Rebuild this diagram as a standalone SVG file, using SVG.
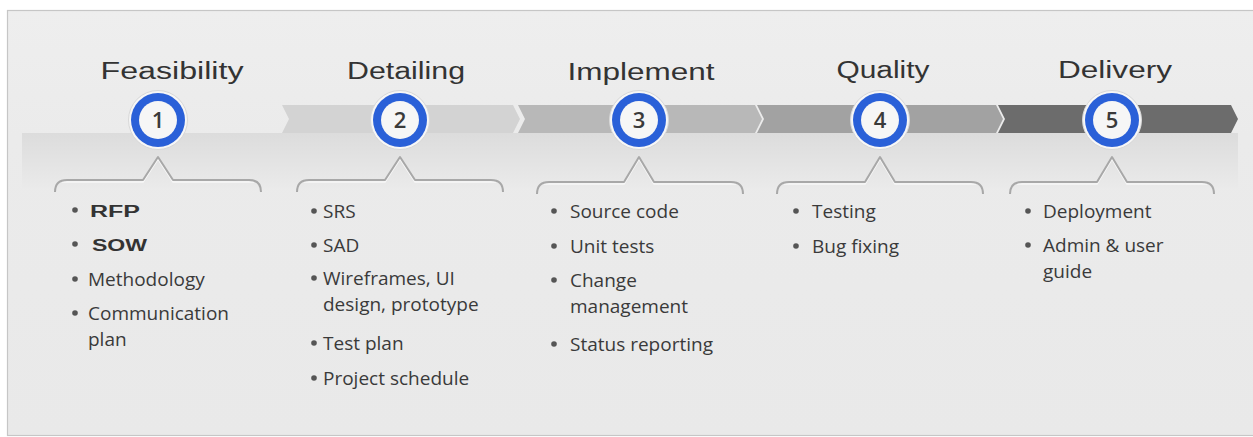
<svg xmlns="http://www.w3.org/2000/svg" width="1253" height="437" viewBox="0 0 1253 437">
<defs>
<linearGradient id="band" x1="0" y1="0" x2="0" y2="1">
<stop offset="0" stop-color="#dcdcdc"/>
<stop offset="1" stop-color="#eaeaea"/>
</linearGradient>
<linearGradient id="bg" x1="0" y1="0" x2="0" y2="1">
<stop offset="0" stop-color="#eeeeee"/>
<stop offset="0.3" stop-color="#ebebeb"/>
<stop offset="1" stop-color="#e9e9e9"/>
</linearGradient>
<linearGradient id="leg" x1="0" y1="0" x2="0" y2="1">
<stop offset="0" stop-color="#b0b0b0"/>
<stop offset="1" stop-color="#e9e9e9" stop-opacity="0"/>
</linearGradient>
</defs>
<style>
.head{font-family:"Liberation Sans",Arial,sans-serif;font-size:23px;fill:#333;text-anchor:middle}
.num{font-family:"Open Sans","Noto Sans",sans-serif;font-size:22px;font-weight:600;fill:#3a3a3a;text-anchor:middle}
.item{font-family:"Open Sans","Noto Sans",sans-serif;font-size:19px;fill:#3a3a3a}
.ar{font-family:"Liberation Sans",Arial,sans-serif;font-size:16px;font-weight:bold;fill:#333}
.dot{fill:#555}
.halo{fill:#f6f6f6;stroke:#d8d8d8;stroke-width:1}
.ring{fill:#2a60d8}
.inner{fill:#f6f6f6}
.brk{fill:none;stroke:#a8a8a8;stroke-width:2;stroke-linejoin:round}
.brkhi{fill:none;stroke:#f8f8f8;stroke-width:1.5}
.side{fill:none;stroke:url(#leg);stroke-width:1.5}
</style>
<rect x="0" y="0" width="1253" height="437" fill="#ffffff"/>
<rect x="7.5" y="10.5" width="1250" height="425" fill="url(#bg)" stroke="#c6c6c6" stroke-width="1.2"/>
<rect x="22" y="133" width="1216" height="55" fill="url(#band)"/>

<g id="connectors">
<polygon points="282,105 513,105 520,119 513,133 282,133 289,119" fill="#d3d3d3"/>
<polygon points="518,105 755,105 762,119 755,133 518,133 525,119" fill="#b8b8b8"/>
<polygon points="757,105 996,105 1003,119 996,133 757,133 764,119" fill="#a2a2a2"/>
<polygon points="998,105 1231,105 1238,119 1231,133 998,133 1005,119" fill="#6c6c6c"/>
</g>

<g id="phase1">
<text class="head" x="172" y="79" textLength="143" lengthAdjust="spacingAndGlyphs">Feasibility</text>
<circle class="halo" cx="158" cy="120" r="29.5"/>
<circle class="ring" cx="158" cy="120" r="27"/>
<circle class="inner" cx="158" cy="120" r="19"/>
<text class="num" x="158" y="128">1</text>
<path class="side" d="M55,188 L55,232"/>
<path class="side" d="M261,188 L261,232"/>
<path class="brkhi" d="M62,182 L143,182 L158,159 L173,182 L254,182"/>
<path class="brk" d="M55,192 Q55,180 67,180 L143,180 L158,157 L173,180 L249,180 Q261,180 261,192"/>
<circle class="dot" cx="75" cy="210" r="2.8"/>
<text class="ar" x="90" y="217" textLength="50" lengthAdjust="spacingAndGlyphs">RFP</text>
<circle class="dot" cx="75" cy="244" r="2.8"/>
<text class="ar" x="92" y="251" textLength="55" lengthAdjust="spacingAndGlyphs">SOW</text>
<circle class="dot" cx="75" cy="279" r="2.8"/>
<text class="item" x="88" y="286">Methodology</text>
<circle class="dot" cx="75" cy="313" r="2.8"/>
<text class="item" x="88" y="320">Communication</text>
<text class="item" x="88" y="346">plan</text>
</g>

<g id="phase2">
<text class="head" x="406" y="79" textLength="118" lengthAdjust="spacingAndGlyphs">Detailing</text>
<circle class="halo" cx="400" cy="120" r="29.5"/>
<circle class="ring" cx="400" cy="120" r="27"/>
<circle class="inner" cx="400" cy="120" r="19"/>
<text class="num" x="400" y="128">2</text>
<path class="side" d="M297,188 L297,232"/>
<path class="side" d="M503,188 L503,232"/>
<path class="brkhi" d="M304,182 L385,182 L400,159 L415,182 L496,182"/>
<path class="brk" d="M297,192 Q297,180 309,180 L385,180 L400,157 L415,180 L491,180 Q503,180 503,192"/>
<circle class="dot" cx="314" cy="211" r="2.8"/>
<text class="item" x="323" y="218">SRS</text>
<circle class="dot" cx="314" cy="245" r="2.8"/>
<text class="item" x="323" y="252">SAD</text>
<circle class="dot" cx="314" cy="278" r="2.8"/>
<text class="item" x="323" y="285">Wireframes, UI</text>
<text class="item" x="323" y="311">design, prototype</text>
<circle class="dot" cx="314" cy="343" r="2.8"/>
<text class="item" x="323" y="350">Test plan</text>
<circle class="dot" cx="314" cy="378" r="2.8"/>
<text class="item" x="323" y="385">Project schedule</text>
</g>

<g id="phase3">
<text class="head" x="641" y="80" textLength="147" lengthAdjust="spacingAndGlyphs">Implement</text>
<circle class="halo" cx="639" cy="120" r="29.5"/>
<circle class="ring" cx="639" cy="120" r="27"/>
<circle class="inner" cx="639" cy="120" r="19"/>
<text class="num" x="639" y="128">3</text>
<path class="side" d="M537,190 L537,234"/>
<path class="side" d="M743,190 L743,234"/>
<path class="brkhi" d="M544,184 L624,184 L639,159 L654,184 L736,184"/>
<path class="brk" d="M537,194 Q537,182 549,182 L624,182 L639,157 L654,182 L731,182 Q743,182 743,194"/>
<circle class="dot" cx="554" cy="211" r="2.8"/>
<text class="item" x="570" y="218">Source code</text>
<circle class="dot" cx="554" cy="246" r="2.8"/>
<text class="item" x="570" y="253">Unit tests</text>
<circle class="dot" cx="554" cy="280" r="2.8"/>
<text class="item" x="570" y="287">Change</text>
<text class="item" x="570" y="313">management</text>
<circle class="dot" cx="554" cy="344" r="2.8"/>
<text class="item" x="570" y="351">Status reporting</text>
</g>

<g id="phase4">
<text class="head" x="883" y="78" textLength="93" lengthAdjust="spacingAndGlyphs">Quality</text>
<circle class="halo" cx="880" cy="120" r="29.5"/>
<circle class="ring" cx="880" cy="120" r="27"/>
<circle class="inner" cx="880" cy="120" r="19"/>
<text class="num" x="880" y="128">4</text>
<path class="side" d="M777,190 L777,234"/>
<path class="side" d="M983,190 L983,234"/>
<path class="brkhi" d="M784,184 L865,184 L880,159 L895,184 L976,184"/>
<path class="brk" d="M777,194 Q777,182 789,182 L865,182 L880,157 L895,182 L971,182 Q983,182 983,194"/>
<circle class="dot" cx="796" cy="211" r="2.8"/>
<text class="item" x="812" y="218">Testing</text>
<circle class="dot" cx="796" cy="246" r="2.8"/>
<text class="item" x="812" y="253">Bug fixing</text>
</g>

<g id="phase5">
<text class="head" x="1115" y="78" textLength="114" lengthAdjust="spacingAndGlyphs">Delivery</text>
<circle class="halo" cx="1112" cy="120" r="29.5"/>
<circle class="ring" cx="1112" cy="120" r="27"/>
<circle class="inner" cx="1112" cy="120" r="19"/>
<text class="num" x="1112" y="128">5</text>
<path class="side" d="M1010,190 L1010,234"/>
<path class="side" d="M1214,190 L1214,234"/>
<path class="brkhi" d="M1017,184 L1097,184 L1112,159 L1127,184 L1207,184"/>
<path class="brk" d="M1010,194 Q1010,182 1022,182 L1097,182 L1112,157 L1127,182 L1202,182 Q1214,182 1214,194"/>
<circle class="dot" cx="1028" cy="211" r="2.8"/>
<text class="item" x="1043" y="218">Deployment</text>
<circle class="dot" cx="1028" cy="245" r="2.8"/>
<text class="item" x="1043" y="252">Admin &amp; user</text>
<text class="item" x="1043" y="278">guide</text>
</g>
</svg>
